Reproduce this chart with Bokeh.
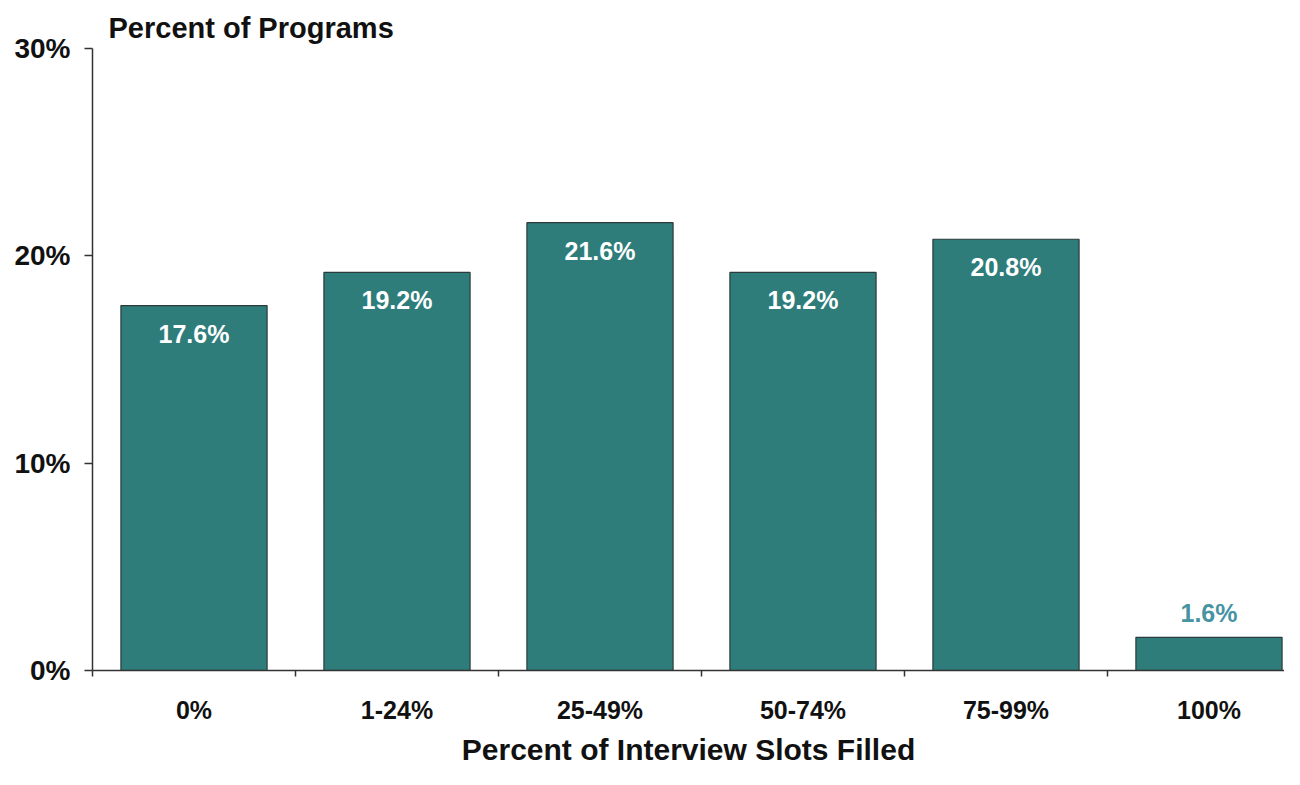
from bokeh.plotting import figure
from bokeh.models import Range1d, FixedTicker, PrintfTickFormatter, ColumnDataSource, Title
from bokeh.core.properties import value
from bokeh.embed import file_html
from bokeh.resources import INLINE

categories = ["0%", "1-24%", "25-49%", "50-74%", "75-99%", "100%"]
percent_programs = [17.6, 19.2, 21.6, 19.2, 20.8, 1.6]
y_ticks = [0, 10, 20, 30]

FONT = "Liberation Sans"
BAR = "#2e7d7b"

centers = [i + 0.5 for i in range(len(categories))]
labels = [f"{v:.1f}%" for v in percent_programs]

inside = ColumnDataSource(dict(
    x=[c for c, v in zip(centers, percent_programs) if v >= 5],
    y=[v for v in percent_programs if v >= 5],
    t=[l for l, v in zip(labels, percent_programs) if v >= 5],
))
outside = ColumnDataSource(dict(
    x=[c for c, v in zip(centers, percent_programs) if v < 5],
    y=[v for v in percent_programs if v < 5],
    t=[l for l, v in zip(labels, percent_programs) if v < 5],
))

p = figure(width=1284, height=769, output_backend="svg", toolbar_location=None,
           x_range=Range1d(0, 5.872), y_range=Range1d(0, 30),
           min_border_left=92, min_border_right=0, min_border_top=48, min_border_bottom=99)
p.outline_line_color = None
p.xgrid.visible = False
p.ygrid.visible = False
p.background_fill_color = "white"

p.add_layout(Title(text="Percent of Programs", text_font=FONT, text_font_size="29px",
                   text_font_style="bold", text_color="#111111", offset=16), "above")

p.vbar(x=centers, top=percent_programs, width=0.72, bottom=0,
       fill_color=BAR, line_color="#2b3b3b", line_width=1.2)

p.text(x="x", y="y", text="t", source=inside, text_align="center", text_baseline="middle",
       y_offset=28, text_color="white", text_font=value(FONT), text_font_size="25px",
       text_font_style="bold")
p.text(x="x", y="y", text="t", source=outside, text_align="center", text_baseline="middle",
       y_offset=-24, text_color="#4693a3", text_font=value(FONT), text_font_size="25px",
       text_font_style="bold")

# y axis
ya = p.yaxis[0]
ya.ticker = FixedTicker(ticks=y_ticks, minor_ticks=[])
ya.formatter = PrintfTickFormatter(format="%d%%")
ya.axis_line_color = "#333333"
ya.axis_line_width = 1.5
ya.major_tick_line_color = "#333333"
ya.major_tick_line_width = 1.5
ya.major_tick_out = 8
ya.major_tick_in = 0
ya.major_label_standoff = 14
ya.major_label_text_font = FONT
ya.major_label_text_font_size = "28px"
ya.major_label_text_font_style = "bold"
ya.major_label_text_color = "#111111"

# x axis
xa = p.xaxis[0]
xa.ticker = FixedTicker(ticks=centers, minor_ticks=list(range(len(categories))))
xa.major_label_overrides = {c: lab for c, lab in zip(centers, categories)}
xa.axis_line_color = "#333333"
xa.axis_line_width = 1.5
xa.major_tick_line_color = None
xa.major_tick_out = 0
xa.major_tick_in = 0
xa.minor_tick_line_color = "#333333"
xa.minor_tick_line_width = 1.5
xa.minor_tick_out = 6
xa.minor_tick_in = 0
xa.major_label_standoff = 19
xa.major_label_text_font = FONT
xa.major_label_text_font_size = "25px"
xa.major_label_text_font_style = "bold"
xa.major_label_text_color = "#111111"
xa.axis_label = "Percent of Interview Slots Filled"
xa.axis_label_text_font = FONT
xa.axis_label_text_font_size = "30px"
xa.axis_label_text_font_style = "bold"
xa.axis_label_text_color = "#111111"
xa.axis_label_standoff = 6

open("out.html", "w").write(file_html(p, INLINE))
